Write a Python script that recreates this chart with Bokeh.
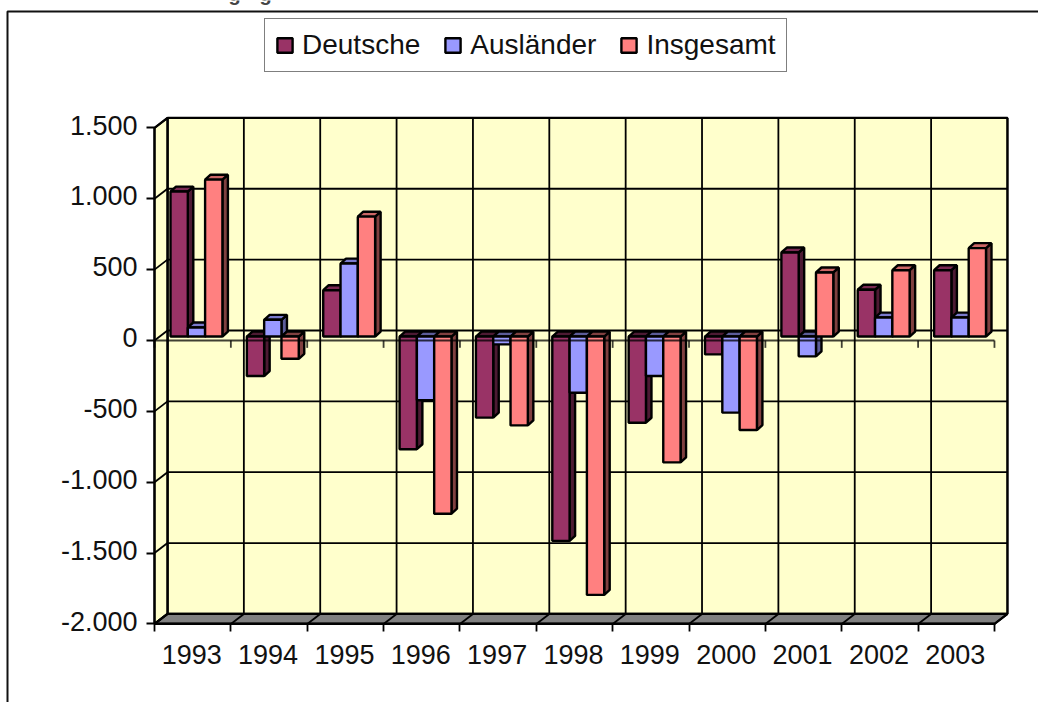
from bokeh.plotting import figure
from bokeh.embed import file_html
from bokeh.resources import INLINE
from bokeh.models import (FixedTicker, Legend, LegendItem, BoxAnnotation, Label, Range1d, LinearAxis)

years = ["1993","1994","1995","1996","1997","1998","1999","2000","2001","2002","2003"]
deutsche = [1023,-279,327,-795,-572,-1442,-608,-126,593,330,468]
auslaender = [64,118,515,-450,-55,-397,-279,-537,-140,134,134]
insgesamt = [1107,-157,846,-1250,-627,-1823,-888,-660,452,468,624]
y_ticks = [-2000,-1500,-1000,-500,0,500,1000,1500]
y_labels = {-2000:"-2.000",-1500:"-1.500",-1000:"-1.000",-500:"-500",0:"0",500:"500",1000:"1.000",1500:"1.500"}
series = [("Deutsche",deutsche,"#993366","#4D1A33","#7A2952"),
          ("Ausländer",auslaender,"#9999FF","#5C5C99","#7A7ACC"),
          ("Insgesamt",insgesamt,"#FF8080","#804040","#CC6666")]

N = len(years)
PX_X, PX_Y = 76.36, 0.14172            # pixels per category, pixels per value unit
W, H = 1038, 702
X0_PX, Y0_PX = 154, 340                # where category 0 and value 0 lie
WALL_DX, WALL_DY = 13/PX_X, 70.6       # depth of the chart box
BAR_DX, BAR_DY = 5.5/PX_X, 35          # depth of a bar
BAR_SHIFT = 28                         # bars stand slightly behind the front plane
GROUP_OFF, BAR_W = 16/PX_X, 17.3/PX_X
LABEL_LIFT = 20                        # value labels sit a little above their ticks

p = figure(width=W, height=H,
           x_range=Range1d(-X0_PX/PX_X, (W-X0_PX)/PX_X),
           y_range=Range1d(-(H-Y0_PX)/PX_Y, Y0_PX/PX_Y),
           min_border=0, output_backend="svg", toolbar_location=None, tools="")
p.outline_line_color = None
p.grid.visible = False
p.background_fill_color = "white"
p.border_fill_color = "white"

# walls and floor
p.patch([WALL_DX,N+WALL_DX,N+WALL_DX,WALL_DX],[-2000+WALL_DY,-2000+WALL_DY,1500+WALL_DY,1500+WALL_DY],
        fill_color="#FFFFCC", line_color="black", line_width=2.2)
p.patch([0,WALL_DX,WALL_DX,0],[-2000,-2000+WALL_DY,1500+WALL_DY,1500],
        fill_color="#FFFFCC", line_color="black", line_width=2.2)
p.patch([0,N,N+WALL_DX,WALL_DX],[-2000,-2000,-2000+WALL_DY,-2000+WALL_DY],
        fill_color="#808080", line_color="black", line_width=2.2)
# gridlines on the walls
p.segment(x0=[WALL_DX]*len(y_ticks), y0=[t+WALL_DY for t in y_ticks],
          x1=[N+WALL_DX]*len(y_ticks), y1=[t+WALL_DY for t in y_ticks], line_color="black", line_width=1.8)
p.segment(x0=[0]*len(y_ticks), y0=y_ticks, x1=[WALL_DX]*len(y_ticks),
          y1=[t+WALL_DY for t in y_ticks], line_color="black", line_width=1.8)
cats = list(range(N+1))
p.segment(x0=[c+WALL_DX for c in cats], y0=[-2000+WALL_DY]*(N+1),
          x1=[c+WALL_DX for c in cats], y1=[1500+WALL_DY]*(N+1), line_color="black", line_width=1.8)
p.segment(x0=cats, y0=[-2000]*(N+1), x1=[c+WALL_DX for c in cats], y1=[-2000+WALL_DY]*(N+1),
          line_color="black", line_width=1.8)

# 3D bars
items = []
for k,(name,vals,front,side,top) in enumerate(series):
    xl = [i+GROUP_OFF+k*BAR_W for i in range(N)]
    xr = [x+BAR_W for x in xl]
    hi = [BAR_SHIFT+max(v,0) for v in vals]
    lo = [BAR_SHIFT+min(v,0) for v in vals]
    p.patches([[a,a+BAR_DX,a+BAR_DX,a] for a in xr],
              [[h,h+BAR_DY,l+BAR_DY,l] for h,l in zip(hi,lo)],
              fill_color=side, line_color="black", line_width=2.4)
    p.patches([[a,b,b+BAR_DX,a+BAR_DX] for a,b in zip(xl,xr)],
              [[h,h,h+BAR_DY,h+BAR_DY] for h in hi],
              fill_color=[top if v>0 else side for v in vals], line_color="black", line_width=2.4)
    r = p.quad(left=xl, right=xr, top=hi, bottom=lo, fill_color=front, line_color="black", line_width=2.4)
    items.append(LegendItem(label=name, renderers=[r]))

# category axis crossing at zero
p.segment(x0=[0], y0=[0], x1=[N], y1=[0], line_color="black", line_width=1.8, line_alpha=0.75)
p.segment(x0=cats, y0=[0]*(N+1), x1=cats, y1=[-52]*(N+1), line_color="black", line_width=1.8, line_alpha=0.75)

FONT = "Liberation Sans"
SIZE = "27px"
xa = p.xaxis[0]
xa.fixed_location = -2000
year_pos = [i+0.487 for i in range(N)]
xa.ticker = FixedTicker(ticks=year_pos, minor_ticks=cats)
xa.major_label_overrides = dict(zip(year_pos, years))
xa.bounds = (0, N)
xa.axis_line_color = "black"; xa.axis_line_width = 2
xa.major_tick_line_color = None
xa.minor_tick_line_color = "black"; xa.minor_tick_line_width = 1.8
xa.minor_tick_out = 8; xa.minor_tick_in = 0
xa.major_label_standoff = 13
xa.major_label_text_font = FONT; xa.major_label_text_font_size = SIZE; xa.major_label_text_color = "#111111"
ya = p.yaxis[0]
ya.fixed_location = 0
ya.ticker = FixedTicker(ticks=y_ticks)
ya.major_label_text_font_size = "0px"
ya.major_label_overrides = {t: "" for t in y_ticks}
ya.bounds = (-2000, 1500)
ya.axis_line_color = "black"; ya.axis_line_width = 2
ya.major_tick_line_color = "black"; ya.major_tick_line_width = 1.8
ya.major_tick_out = 8; ya.major_tick_in = 0
ya.minor_tick_line_color = None
# the value labels, on an axis of their own without lines
lab_pos = [t+LABEL_LIFT for t in y_ticks]
yl = LinearAxis(fixed_location=0, ticker=FixedTicker(ticks=lab_pos),
                major_label_overrides={t+LABEL_LIFT: y_labels[t] for t in y_ticks},
                axis_line_color=None, major_tick_line_color=None, minor_tick_line_color=None,
                major_tick_out=8, major_tick_in=0, major_label_standoff=9,
                major_label_text_font=FONT, major_label_text_font_size=SIZE, major_label_text_color="#111111")
p.add_layout(yl, "left")

legend = Legend(items=items, orientation="horizontal", location=(264, H-72),
                padding=10, spacing=23, margin=0, glyph_width=19, glyph_height=18, label_standoff=8,
                label_text_font=FONT, label_text_font_size="28px", label_text_color="#111111",
                border_line_color="black", border_line_width=1.5, background_fill_color="white",
                background_fill_alpha=1)
p.add_layout(legend)

# outer frame (only its top and left sides lie on the page)
p.add_layout(BoxAnnotation(left=7, right=1300, top=H-11, bottom=-200,
                           left_units="screen", right_units="screen", top_units="screen", bottom_units="screen",
                           fill_alpha=0, line_color="#111111", line_width=2, line_alpha=1,
                           editable=False))
# clipped-off title: only two descenders remain on the page
for gx in (228, 259):
    p.add_layout(Label(x=gx, y=H+7, x_units="screen", y_units="screen", text="g",
                       text_font=FONT, text_font_style="bold", text_font_size="20px",
                       text_baseline="alphabetic"))

open("out.html","w").write(file_html(p, INLINE))
